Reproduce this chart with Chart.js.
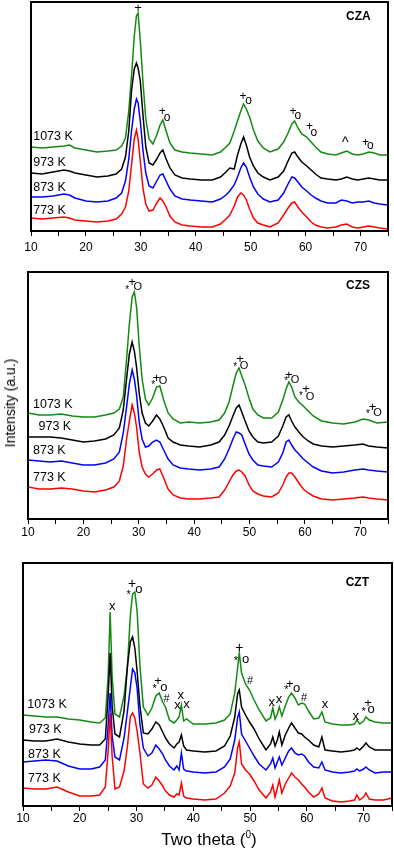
<!DOCTYPE html>
<html lang="en">
<head>
<meta charset="UTF-8">
<title>XRD patterns - CZA, CZS, CZT</title>
<script src="https://cdn.jsdelivr.net/npm/chart.js"></script>
<style>
  body { margin: 0; background: #fff; width: 394px; height: 851px; position: relative; overflow: hidden;
         font-family: "Liberation Sans", Arial, sans-serif; color: #000; }
  canvas { position: absolute; left: 0; }
  .ylab { position: absolute; left: 10px; top: 403px; transform: translate(-50%, -50%) rotate(-90deg);
          font-size: 14px; white-space: nowrap; }
  .xlab { position: absolute; left: 209px; top: 840px; transform: translate(-50%, -50%);
          font-size: 17px; white-space: nowrap; }
  .xlab sup { font-size: 10px; position: relative; top: -1px; }
</style>
</head>
<body>
<canvas id="cza" width="394" height="256" style="top:0px"></canvas>
<canvas id="czs" width="394" height="282" style="top:262px"></canvas>
<canvas id="czt" width="394" height="278" style="top:553px"></canvas>
<div class="ylab">Intensity (a.u.)</div>
<div class="xlab">Two theta (<sup>0</sup>)</div>

<script>
// ---- CZA ----
const czaTheta = [10, 12, 14, 16, 17, 18, 20, 22, 24, 25.5, 26.5, 27.2, 27.8, 28.3, 28.8, 29.2, 29.5, 29.9, 30.4, 30.9,
  31.5, 32.2, 32.9, 33.5, 34, 34.6, 35.3, 36.2, 37.5, 39, 41, 43, 44.5, 45.5, 46.2, 47, 47.6, 48.2, 48.7, 49.2,
  49.8, 50.5, 51.3, 52.3, 53.5, 55, 56, 56.8, 57.5, 58, 58.6, 59.3, 60.2, 61, 61.8, 62.8, 64, 65.5, 66.5, 67.5,
  68.5, 69.5, 70.5, 71.5, 72.5, 73.5, 75];
const cza1073 = [84, 83, 84, 85, 86, 83, 81, 79, 80, 81, 85, 93, 120, 155, 195, 215, 218, 190, 148, 112,
  92, 87, 96, 106, 111, 100, 88, 81, 79, 78, 77, 76, 79, 84, 88, 100, 110, 120, 127, 122,
  114, 101, 90, 83, 79, 82, 89, 98, 107, 110, 103, 97, 94, 89, 84, 79, 77, 76, 78, 80,
  77, 76, 77, 79, 78, 76, 76];
const cza973 = [58, 57, 59, 61, 60, 58, 56, 54, 55, 57, 62, 74, 100, 140, 162, 168, 163, 150, 115, 84,
  68, 66, 72, 78, 81, 72, 63, 56, 53, 52, 51, 51, 54, 59, 63, 62, 76, 87, 94, 86,
  74, 65, 58, 54, 51, 54, 60, 70, 78, 79, 74, 69, 65, 61, 57, 53, 52, 51, 52, 54,
  52, 51, 52, 53, 52, 51, 51];
const cza873 = [34, 34, 35, 37, 36, 33, 30, 29, 30, 33, 38, 50, 72, 100, 122, 132, 128, 110, 80, 58,
  45, 43, 50, 56, 57, 50, 42, 35, 32, 31, 30, 29, 32, 36, 40, 46, 54, 63, 68, 64,
  54, 44, 37, 32, 29, 31, 38, 47, 54, 53, 49, 44, 40, 36, 33, 30, 28, 28, 31, 30,
  28, 29, 29, 30, 28, 27, 26];
const cza773 = [13, 12, 13, 14, 13, 11, 10, 9, 10, 12, 17, 24, 40, 66, 92, 101, 92, 70, 42, 27,
  20, 21, 28, 33, 30, 24, 15, 9, 6, 5, 4, 4, 7, 12, 16, 25, 34, 38, 36, 31,
  22, 13, 8, 6, 4, 8, 16, 23, 28, 29, 24, 19, 14, 9, 6, 4, 3, 4, 6, 7,
  4, 3, 4, 5, 4, 3, 2];

// ---- CZS ----
const czsTheta = [10, 12, 14, 16, 18, 20, 22, 24, 25.5, 26.5, 27.2, 27.8, 28.3, 28.8, 29.2, 29.6, 30.1, 30.6, 31.2, 31.8,
  32.5, 33.2, 33.8, 34.5, 35.3, 36.2, 37.5, 39, 41, 43, 44.5, 45.5, 46.3, 47, 47.6, 48.1, 48.6, 49.2, 49.9, 50.6,
  51.5, 52.5, 54, 55.2, 56, 56.6, 57.1, 57.6, 58.2, 58.9, 59.7, 60.6, 61.5, 63, 65, 67, 69, 70.5, 71.5, 73, 75];
const czs1073 = [106, 104, 104, 105, 103, 102, 102, 104, 106, 110, 122, 160, 195, 222, 227, 212, 172, 140, 120, 114,
  121, 132, 133, 119, 106, 100, 96, 97, 96, 97, 99, 106, 117, 133, 146, 151, 143, 134, 121, 110,
  104, 101, 101, 107, 119, 130, 137, 132, 122, 117, 113, 108, 103, 98, 96, 95, 97, 100, 99, 96, 97];
const czs973 = [82, 82, 82, 81, 79, 77, 78, 80, 84, 91, 109, 140, 165, 177, 168, 152, 125, 106, 96, 93,
  98, 104, 100, 92, 81, 77, 74, 73, 72, 74, 77, 84, 93, 103, 111, 114, 107, 98, 88, 82,
  77, 76, 77, 83, 93, 102, 104, 98, 92, 87, 82, 78, 75, 73, 72, 73, 74, 75, 73, 72, 71];
const czs873 = [59, 58, 57, 58, 56, 54, 54, 56, 60, 67, 86, 112, 135, 149, 140, 124, 96, 80, 72, 73,
  77, 79, 77, 69, 60, 54, 51, 50, 49, 50, 52, 60, 70, 80, 87, 86, 84, 75, 65, 59,
  54, 53, 52, 57, 66, 77, 79, 74, 69, 65, 60, 56, 52, 48, 46, 47, 49, 50, 49, 48, 47];
const czs773 = [32, 30, 30, 31, 30, 28, 27, 29, 32, 38, 53, 80, 98, 114, 106, 92, 66, 52, 45, 42,
  45, 49, 50, 41, 30, 24, 21, 20, 20, 21, 22, 29, 37, 44, 48, 49, 47, 43, 34, 28,
  25, 23, 22, 26, 34, 42, 46, 46, 42, 36, 30, 26, 23, 20, 19, 20, 21, 22, 21, 20, 19];

// ---- CZT ----
const cztTheta = [10, 12, 14, 16, 18, 20, 22, 23.5, 24.5, 25, 25.35, 25.7, 26.2, 27, 27.8, 28.4, 28.9, 29.3, 29.7, 30.1,
  30.6, 31.2, 32, 32.7, 33.4, 34, 34.6, 35.1, 35.8, 36.6, 37.1, 37.5, 37.9, 38.3, 38.8, 40, 42, 44, 45.5, 46.5,
  47.3, 47.8, 48.1, 48.5, 49.2, 49.9, 50.7, 51.6, 52.8, 53.6, 54, 54.4, 54.8, 55.15, 55.6, 56.2, 56.8, 57.3, 57.9, 58.5,
  59.1, 59.6, 60.3, 61.2, 62.1, 62.65, 63.2, 64.5, 66, 67.5, 68.4, 68.8, 69.3, 70, 70.4, 71, 72, 73.5, 75];
const czt1073 = [91, 90, 89, 89, 87, 86, 84, 83, 88, 130, 194, 130, 92, 89, 110, 140, 190, 212, 214, 195,
  140, 99, 91, 98, 110, 113, 104, 99, 86, 83, 86, 89, 101, 85, 87, 82, 82, 83, 86, 92,
  113, 138, 153, 133, 122, 116, 106, 96, 85, 88, 98, 87, 92, 99, 90, 100, 109, 113, 108, 101,
  103, 102, 95, 87, 88, 94, 84, 82, 81, 81, 82, 86, 82, 85, 89, 86, 84, 83, 83];
const czt973 = [66, 65, 65, 67, 64, 62, 61, 61, 67, 110, 153, 100, 72, 69, 95, 140, 164, 169, 158, 135,
  100, 73, 72, 77, 84, 81, 74, 68, 62, 58, 62, 64, 71, 60, 56, 55, 54, 55, 60, 70,
  89, 112, 116, 99, 91, 84, 77, 67, 56, 62, 69, 60, 66, 74, 61, 71, 78, 83, 78, 73,
  72, 69, 66, 61, 59, 69, 56, 55, 54, 55, 56, 58, 56, 60, 63, 59, 56, 56, 56];
const czt873 = [44, 45, 46, 45, 40, 37, 37, 39, 46, 80, 113, 70, 49, 46, 68, 95, 118, 137, 133, 118,
  82, 58, 50, 53, 61, 57, 52, 46, 40, 36, 40, 36, 53, 37, 35, 34, 33, 34, 39, 47,
  66, 88, 94, 72, 65, 58, 50, 42, 36, 42, 48, 38, 44, 49, 41, 48, 55, 58, 53, 51,
  52, 50, 44, 39, 38, 44, 36, 34, 33, 34, 35, 37, 35, 37, 39, 36, 33, 34, 34];
const czt773 = [18, 17, 17, 19, 14, 10, 10, 11, 19, 55, 93, 50, 17, 19, 35, 60, 89, 93, 88, 75,
  53, 22, 18, 21, 29, 25, 20, 15, 11, 9, 12, 11, 23, 10, 8, 7, 6, 7, 13, 20,
  33, 58, 64, 42, 36, 32, 25, 16, 8, 14, 21, 9, 18, 26, 13, 22, 28, 33, 29, 26,
  22, 19, 14, 9, 12, 18, 8, 5, 4, 5, 6, 11, 6, 9, 13, 7, 6, 6, 8];

const tempLabels = ['773 K', '873 K', '973 K', '1073 K'];
const lineColors = ['#ff0000', '#0000ff', '#000000', '#128a12'];

// peak markers: [two theta, intensity, text, font size]
const czaMarks = [[29.5, 223, '+', 13], [33.9, 119, '+', 12], [34.8, 113, 'o', 12], [48.6, 134, '+', 12], [49.6, 130, 'o', 12],
  [57.7, 119, '+', 12], [58.6, 115, 'o', 12], [60.7, 104, '+', 12], [61.5, 98, 'o', 12], [67.2, 88, '^', 14],
  [70.9, 88, '+', 12], [71.8, 85, 'o', 12]];
const czsMarks = [[27.9, 229, '*', 10], [28.8, 237, '+', 13], [29.8, 232, 'O', 11],
  [32.6, 134, '*', 10], [33.2, 141, '+', 13], [34.4, 138, 'O', 11],
  [47.4, 152, '*', 10], [48.3, 160, '+', 13], [49.0, 153, 'O', 11],
  [56.6, 138, '*', 10], [57.1, 144, '+', 13], [58.2, 139, 'O', 11],
  [59.3, 123, '*', 10], [60.2, 130, '+', 13], [60.9, 122, 'O', 11],
  [71.4, 105, '*', 10], [72.2, 112, '+', 13], [73.1, 106, 'O', 11]];
const cztMarks = [[25.7, 200, 'x', 13], [28.6, 211, '*', 11], [29.2, 222, '+', 14], [30.4, 217, 'o', 13],
  [33.2, 117, '*', 11], [33.8, 125, '+', 13], [34.8, 119, 'o', 13], [35.3, 107, '#', 11],
  [37.2, 101, 'x', 13], [37.8, 111, 'x', 13], [38.8, 102, 'x', 13],
  [47.5, 145, '*', 11], [48.1, 158, '+', 14], [49.2, 147, 'o', 13], [50.0, 125, '#', 11],
  [53.8, 104, 'x', 13], [55.1, 107, 'x', 13], [56.4, 116, '*', 11], [57.0, 122, '+', 13], [58.2, 118, 'o', 13],
  [59.5, 108, '#', 11], [63.2, 102, 'x', 13], [68.6, 90, 'x', 13], [70.0, 94, '*', 11], [70.8, 103, '+', 13], [71.3, 97, 'o', 13]];

// temperature labels: [two theta, intensity] for 773, 873, 973, 1073
const czaTempPos = [[10.4, 20], [10.4, 43], [10.4, 68], [10.4, 94]];
const czsTempPos = [[10.9, 41], [10.9, 68], [11.9, 92], [10.9, 114]];
const cztTempPos = [[10.9, 27], [10.9, 51], [11.05, 76], [10.75, 101]];

function labelPlugin(marks, tempPos, title, titlePos) {
    return {
        id: 'labels',
        afterDraw(chart) {
            const ctx = chart.ctx, xs = chart.scales.x, ys = chart.scales.y, a = chart.chartArea;
            ctx.save();
            // frame
            ctx.strokeStyle = '#000';
            ctx.lineWidth = 2;
            ctx.strokeRect(a.left, a.top, a.right - a.left, a.bottom - a.top);
            ctx.fillStyle = '#000';
            ctx.textAlign = 'center';
            ctx.textBaseline = 'middle';
            marks.forEach(m => {
                ctx.font = m[3] + 'px "Liberation Sans", Arial, sans-serif';
                ctx.fillText(m[2], xs.getPixelForValue(m[0]), ys.getPixelForValue(m[1]));
            });
            ctx.textAlign = 'left';
            ctx.font = '12.5px "Liberation Sans", Arial, sans-serif';
            tempPos.forEach((p, i) => {
                ctx.fillText(tempLabels[i], xs.getPixelForValue(p[0]), ys.getPixelForValue(p[1]));
            });
            ctx.textAlign = 'center';
            ctx.font = 'bold 12px "Liberation Sans", Arial, sans-serif';
            ctx.fillText(title, xs.getPixelForValue(titlePos[0]), ys.getPixelForValue(titlePos[1]));
            ctx.restore();
        }
    };
}

Chart.defaults.font.family = '"Liberation Sans", Arial, sans-serif';
Chart.defaults.font.size = 12;
Chart.defaults.color = '#000';

function makePanel(id, theta, values, yMax, pad, tickPad, marks, tempPos, title, titlePos) {
    const datasets = values.map((vals, i) => ({
        label: tempLabels[i],
        data: theta.map((t, j) => ({ x: t, y: vals[j] })),
        borderColor: lineColors[i],
        borderWidth: 1.5,
        pointRadius: 0,
        tension: 0,
        fill: false
    }));
    new Chart(document.getElementById(id), {
        type: 'line',
        data: { datasets: datasets },
        options: {
            responsive: false,
            animation: false,
            layout: { padding: pad },
            plugins: { legend: { display: false }, tooltip: { enabled: false } },
            scales: {
                x: {
                    type: 'linear',
                    min: 10, max: 75,
                    border: { display: false },
                    grid: { drawOnChartArea: false, drawTicks: true, tickLength: 5, color: '#000', lineWidth: 1 },
                    ticks: {
                        stepSize: 5, autoSkip: false, maxRotation: 0, padding: tickPad,
                        callback: v => (v % 10 === 0 ? v : '')
                    },
                    afterFit: s => { s.height = 22; }
                },
                y: { display: false, min: 0, max: yMax }
            }
        },
        plugins: [labelPlugin(marks, tempPos, title, titlePos)]
    });
}

makePanel('cza', czaTheta, [cza773, cza873, cza973, cza1073], 229,
    { top: 2, left: 31, right: 6, bottom: 3 }, 4, czaMarks, czaTempPos, 'CZA', [69.6, 214]);
makePanel('czs', czsTheta, [czs773, czs873, czs973, czs1073], 247,
    { top: 10, left: 28, right: 6, bottom: 3 }, 1, czsMarks, czsTempPos, 'CZS', [69.6, 233]);
makePanel('czt', cztTheta, [czt773, czt873, czt973, czt1073], 243,
    { top: 10, left: 23, right: 2, bottom: 3 }, 0, cztMarks, cztTempPos, 'CZT', [68.9, 223]);
</script>
</body>
</html>
